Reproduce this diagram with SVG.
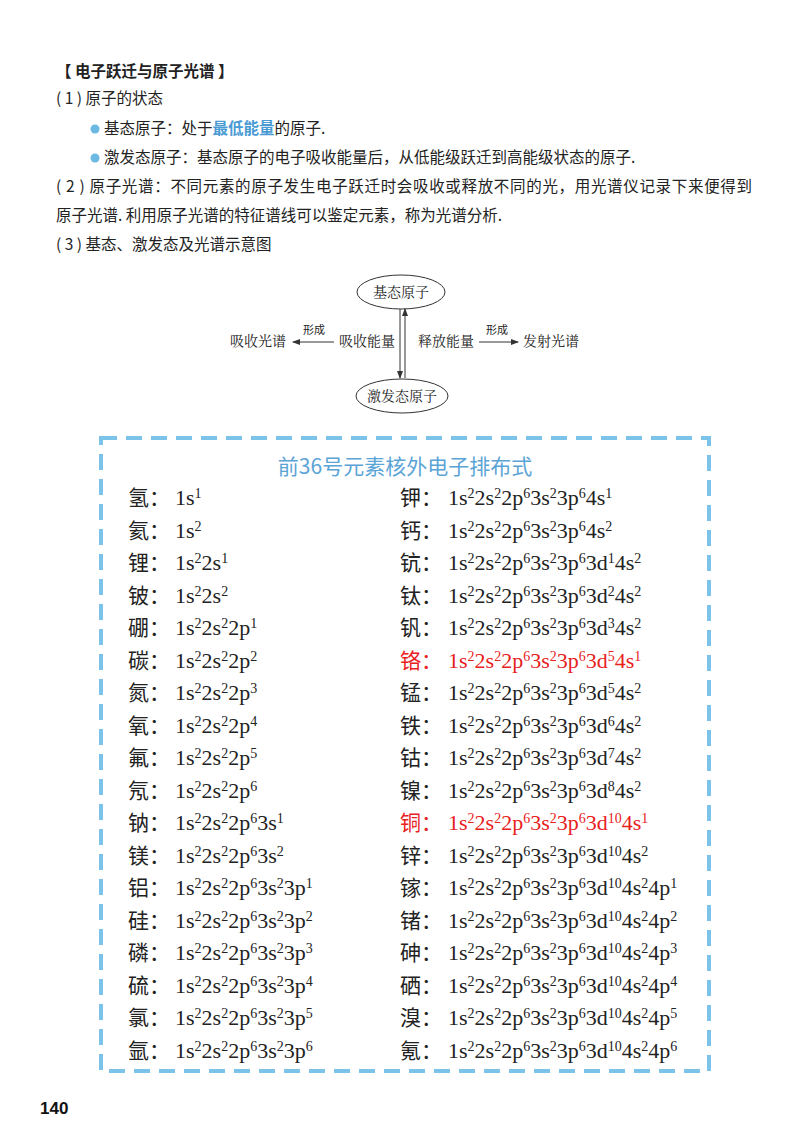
<svg xmlns="http://www.w3.org/2000/svg" width="800" height="1130" viewBox="0 0 800 1130">
<style>
.t{font-family:"Noto Sans CJK SC","Noto Sans",sans-serif;font-size:15.5px;fill:#222}
.d{font-family:"Liberation Serif","Noto Serif CJK SC","Noto Sans CJK SC",serif;font-size:14px;fill:#222}
.ds{font-family:"Liberation Serif","Noto Sans CJK SC",serif;font-size:11px;fill:#222}
.el{font-family:"Noto Sans CJK SC",sans-serif;font-size:21px;fill:#222}
.f{font-family:"Liberation Serif",serif;font-size:22px;fill:#222}
.s{font-size:14px;baseline-shift:7px}
.red{fill:#e8211c}
.ln{stroke:#333;stroke-width:1;fill:none}
</style>
<defs>
<marker id="a" markerWidth="8" markerHeight="6" refX="7" refY="3" orient="auto" markerUnits="userSpaceOnUse"><path d="M0,0 L8,3 L0,6 z" fill="#333"/></marker>
</defs>
<rect width="800" height="1130" fill="#fff"/>
<g id="intro">
<text x="56" y="77" class="t" font-weight="bold">【 电子跃迁与原子光谱 】</text>
<text x="56" y="104" class="t">( 1 ) 原子的状态</text>
<circle cx="95" cy="129" r="4.5" fill="#6cb9e4"/>
<text x="104" y="134" class="t">基态原子：处于<tspan fill="#4a9bd4" font-weight="bold">最低能量</tspan>的原子.</text>
<circle cx="95" cy="158" r="4.5" fill="#6cb9e4"/>
<text x="104" y="163" class="t">激发态原子：基态原子的电子吸收能量后，从低能级跃迁到高能级状态的原子.</text>
<text x="56" y="192" class="t" textLength="696" lengthAdjust="spacing">( 2 ) 原子光谱：不同元素的原子发生电子跃迁时会吸收或释放不同的光，用光谱仪记录下来便得到</text>
<text x="56" y="221" class="t">原子光谱. 利用原子光谱的特征谱线可以鉴定元素，称为光谱分析.</text>
<text x="56" y="250" class="t">( 3 ) 基态、激发态及光谱示意图</text>
</g>
<g id="node-ground"><ellipse cx="401" cy="292" rx="44" ry="17" class="ln"/><text x="401" y="297" text-anchor="middle" class="d">基态原子</text></g>
<g id="node-excited"><ellipse cx="402" cy="396" rx="46" ry="17" class="ln"/><text x="402" y="401" text-anchor="middle" class="d">激发态原子</text></g>
<g id="node-absorb"><text x="367" y="346" text-anchor="middle" class="d">吸收能量</text></g>
<g id="node-release"><text x="446" y="346" text-anchor="middle" class="d">释放能量</text></g>
<g id="node-abs-spec"><text x="258" y="346" text-anchor="middle" class="d">吸收光谱</text></g>
<g id="node-emi-spec"><text x="551" y="346" text-anchor="middle" class="d">发射光谱</text></g>
<g id="connectors">
<line x1="400" y1="309" x2="400" y2="378" class="ln" marker-end="url(#a)"/>
<line x1="405" y1="378" x2="405" y2="309" class="ln" marker-end="url(#a)"/>
<line x1="334" y1="342" x2="293" y2="342" class="ln" marker-end="url(#a)"/>
<text x="314" y="334" text-anchor="middle" class="ds">形成</text>
<line x1="479" y1="342" x2="518" y2="342" class="ln" marker-end="url(#a)"/>
<text x="497" y="334" text-anchor="middle" class="ds">形成</text>
</g>
<g id="table">
<rect x="101" y="438" width="608" height="633" fill="none" stroke="#7cc3ea" stroke-width="4" stroke-dasharray="16,9"/>
<text x="405" y="474" text-anchor="middle" font-family="Noto Sans CJK SC,sans-serif" font-size="21" fill="#5ba4d6">前36号元素核外电子排布式</text>
<g id="left">
<text x="128" y="505" class="el">氢：</text><text x="175" y="505" class="f">1s<tspan class="s">1</tspan></text>
<text x="128" y="537.5" class="el">氦：</text><text x="175" y="537.5" class="f">1s<tspan class="s">2</tspan></text>
<text x="128" y="570" class="el">锂：</text><text x="175" y="570" class="f">1s<tspan class="s">2</tspan>2s<tspan class="s">1</tspan></text>
<text x="128" y="602.5" class="el">铍：</text><text x="175" y="602.5" class="f">1s<tspan class="s">2</tspan>2s<tspan class="s">2</tspan></text>
<text x="128" y="635" class="el">硼：</text><text x="175" y="635" class="f">1s<tspan class="s">2</tspan>2s<tspan class="s">2</tspan>2p<tspan class="s">1</tspan></text>
<text x="128" y="667.5" class="el">碳：</text><text x="175" y="667.5" class="f">1s<tspan class="s">2</tspan>2s<tspan class="s">2</tspan>2p<tspan class="s">2</tspan></text>
<text x="128" y="700" class="el">氮：</text><text x="175" y="700" class="f">1s<tspan class="s">2</tspan>2s<tspan class="s">2</tspan>2p<tspan class="s">3</tspan></text>
<text x="128" y="732.5" class="el">氧：</text><text x="175" y="732.5" class="f">1s<tspan class="s">2</tspan>2s<tspan class="s">2</tspan>2p<tspan class="s">4</tspan></text>
<text x="128" y="765" class="el">氟：</text><text x="175" y="765" class="f">1s<tspan class="s">2</tspan>2s<tspan class="s">2</tspan>2p<tspan class="s">5</tspan></text>
<text x="128" y="797.5" class="el">氖：</text><text x="175" y="797.5" class="f">1s<tspan class="s">2</tspan>2s<tspan class="s">2</tspan>2p<tspan class="s">6</tspan></text>
<text x="128" y="830" class="el">钠：</text><text x="175" y="830" class="f">1s<tspan class="s">2</tspan>2s<tspan class="s">2</tspan>2p<tspan class="s">6</tspan>3s<tspan class="s">1</tspan></text>
<text x="128" y="862.5" class="el">镁：</text><text x="175" y="862.5" class="f">1s<tspan class="s">2</tspan>2s<tspan class="s">2</tspan>2p<tspan class="s">6</tspan>3s<tspan class="s">2</tspan></text>
<text x="128" y="895" class="el">铝：</text><text x="175" y="895" class="f">1s<tspan class="s">2</tspan>2s<tspan class="s">2</tspan>2p<tspan class="s">6</tspan>3s<tspan class="s">2</tspan>3p<tspan class="s">1</tspan></text>
<text x="128" y="927.5" class="el">硅：</text><text x="175" y="927.5" class="f">1s<tspan class="s">2</tspan>2s<tspan class="s">2</tspan>2p<tspan class="s">6</tspan>3s<tspan class="s">2</tspan>3p<tspan class="s">2</tspan></text>
<text x="128" y="960" class="el">磷：</text><text x="175" y="960" class="f">1s<tspan class="s">2</tspan>2s<tspan class="s">2</tspan>2p<tspan class="s">6</tspan>3s<tspan class="s">2</tspan>3p<tspan class="s">3</tspan></text>
<text x="128" y="992.5" class="el">硫：</text><text x="175" y="992.5" class="f">1s<tspan class="s">2</tspan>2s<tspan class="s">2</tspan>2p<tspan class="s">6</tspan>3s<tspan class="s">2</tspan>3p<tspan class="s">4</tspan></text>
<text x="128" y="1025" class="el">氯：</text><text x="175" y="1025" class="f">1s<tspan class="s">2</tspan>2s<tspan class="s">2</tspan>2p<tspan class="s">6</tspan>3s<tspan class="s">2</tspan>3p<tspan class="s">5</tspan></text>
<text x="128" y="1057.5" class="el">氩：</text><text x="175" y="1057.5" class="f">1s<tspan class="s">2</tspan>2s<tspan class="s">2</tspan>2p<tspan class="s">6</tspan>3s<tspan class="s">2</tspan>3p<tspan class="s">6</tspan></text>
</g>
<g id="right">
<text x="400" y="505" class="el">钾：</text><text x="448" y="505" class="f">1s<tspan class="s">2</tspan>2s<tspan class="s">2</tspan>2p<tspan class="s">6</tspan>3s<tspan class="s">2</tspan>3p<tspan class="s">6</tspan>4s<tspan class="s">1</tspan></text>
<text x="400" y="537.5" class="el">钙：</text><text x="448" y="537.5" class="f">1s<tspan class="s">2</tspan>2s<tspan class="s">2</tspan>2p<tspan class="s">6</tspan>3s<tspan class="s">2</tspan>3p<tspan class="s">6</tspan>4s<tspan class="s">2</tspan></text>
<text x="400" y="570" class="el">钪：</text><text x="448" y="570" class="f">1s<tspan class="s">2</tspan>2s<tspan class="s">2</tspan>2p<tspan class="s">6</tspan>3s<tspan class="s">2</tspan>3p<tspan class="s">6</tspan>3d<tspan class="s">1</tspan>4s<tspan class="s">2</tspan></text>
<text x="400" y="602.5" class="el">钛：</text><text x="448" y="602.5" class="f">1s<tspan class="s">2</tspan>2s<tspan class="s">2</tspan>2p<tspan class="s">6</tspan>3s<tspan class="s">2</tspan>3p<tspan class="s">6</tspan>3d<tspan class="s">2</tspan>4s<tspan class="s">2</tspan></text>
<text x="400" y="635" class="el">钒：</text><text x="448" y="635" class="f">1s<tspan class="s">2</tspan>2s<tspan class="s">2</tspan>2p<tspan class="s">6</tspan>3s<tspan class="s">2</tspan>3p<tspan class="s">6</tspan>3d<tspan class="s">3</tspan>4s<tspan class="s">2</tspan></text>
<text x="400" y="667.5" class="el red">铬：</text><text x="448" y="667.5" class="f red">1s<tspan class="s">2</tspan>2s<tspan class="s">2</tspan>2p<tspan class="s">6</tspan>3s<tspan class="s">2</tspan>3p<tspan class="s">6</tspan>3d<tspan class="s">5</tspan>4s<tspan class="s">1</tspan></text>
<text x="400" y="700" class="el">锰：</text><text x="448" y="700" class="f">1s<tspan class="s">2</tspan>2s<tspan class="s">2</tspan>2p<tspan class="s">6</tspan>3s<tspan class="s">2</tspan>3p<tspan class="s">6</tspan>3d<tspan class="s">5</tspan>4s<tspan class="s">2</tspan></text>
<text x="400" y="732.5" class="el">铁：</text><text x="448" y="732.5" class="f">1s<tspan class="s">2</tspan>2s<tspan class="s">2</tspan>2p<tspan class="s">6</tspan>3s<tspan class="s">2</tspan>3p<tspan class="s">6</tspan>3d<tspan class="s">6</tspan>4s<tspan class="s">2</tspan></text>
<text x="400" y="765" class="el">钴：</text><text x="448" y="765" class="f">1s<tspan class="s">2</tspan>2s<tspan class="s">2</tspan>2p<tspan class="s">6</tspan>3s<tspan class="s">2</tspan>3p<tspan class="s">6</tspan>3d<tspan class="s">7</tspan>4s<tspan class="s">2</tspan></text>
<text x="400" y="797.5" class="el">镍：</text><text x="448" y="797.5" class="f">1s<tspan class="s">2</tspan>2s<tspan class="s">2</tspan>2p<tspan class="s">6</tspan>3s<tspan class="s">2</tspan>3p<tspan class="s">6</tspan>3d<tspan class="s">8</tspan>4s<tspan class="s">2</tspan></text>
<text x="400" y="830" class="el red">铜：</text><text x="448" y="830" class="f red">1s<tspan class="s">2</tspan>2s<tspan class="s">2</tspan>2p<tspan class="s">6</tspan>3s<tspan class="s">2</tspan>3p<tspan class="s">6</tspan>3d<tspan class="s">10</tspan>4s<tspan class="s">1</tspan></text>
<text x="400" y="862.5" class="el">锌：</text><text x="448" y="862.5" class="f">1s<tspan class="s">2</tspan>2s<tspan class="s">2</tspan>2p<tspan class="s">6</tspan>3s<tspan class="s">2</tspan>3p<tspan class="s">6</tspan>3d<tspan class="s">10</tspan>4s<tspan class="s">2</tspan></text>
<text x="400" y="895" class="el">镓：</text><text x="448" y="895" class="f">1s<tspan class="s">2</tspan>2s<tspan class="s">2</tspan>2p<tspan class="s">6</tspan>3s<tspan class="s">2</tspan>3p<tspan class="s">6</tspan>3d<tspan class="s">10</tspan>4s<tspan class="s">2</tspan>4p<tspan class="s">1</tspan></text>
<text x="400" y="927.5" class="el">锗：</text><text x="448" y="927.5" class="f">1s<tspan class="s">2</tspan>2s<tspan class="s">2</tspan>2p<tspan class="s">6</tspan>3s<tspan class="s">2</tspan>3p<tspan class="s">6</tspan>3d<tspan class="s">10</tspan>4s<tspan class="s">2</tspan>4p<tspan class="s">2</tspan></text>
<text x="400" y="960" class="el">砷：</text><text x="448" y="960" class="f">1s<tspan class="s">2</tspan>2s<tspan class="s">2</tspan>2p<tspan class="s">6</tspan>3s<tspan class="s">2</tspan>3p<tspan class="s">6</tspan>3d<tspan class="s">10</tspan>4s<tspan class="s">2</tspan>4p<tspan class="s">3</tspan></text>
<text x="400" y="992.5" class="el">硒：</text><text x="448" y="992.5" class="f">1s<tspan class="s">2</tspan>2s<tspan class="s">2</tspan>2p<tspan class="s">6</tspan>3s<tspan class="s">2</tspan>3p<tspan class="s">6</tspan>3d<tspan class="s">10</tspan>4s<tspan class="s">2</tspan>4p<tspan class="s">4</tspan></text>
<text x="400" y="1025" class="el">溴：</text><text x="448" y="1025" class="f">1s<tspan class="s">2</tspan>2s<tspan class="s">2</tspan>2p<tspan class="s">6</tspan>3s<tspan class="s">2</tspan>3p<tspan class="s">6</tspan>3d<tspan class="s">10</tspan>4s<tspan class="s">2</tspan>4p<tspan class="s">5</tspan></text>
<text x="400" y="1057.5" class="el">氪：</text><text x="448" y="1057.5" class="f">1s<tspan class="s">2</tspan>2s<tspan class="s">2</tspan>2p<tspan class="s">6</tspan>3s<tspan class="s">2</tspan>3p<tspan class="s">6</tspan>3d<tspan class="s">10</tspan>4s<tspan class="s">2</tspan>4p<tspan class="s">6</tspan></text>
</g>
</g>
<text x="40" y="1114" font-family="Liberation Sans,sans-serif" font-weight="bold" font-size="17" fill="#111">140</text>
</svg>
